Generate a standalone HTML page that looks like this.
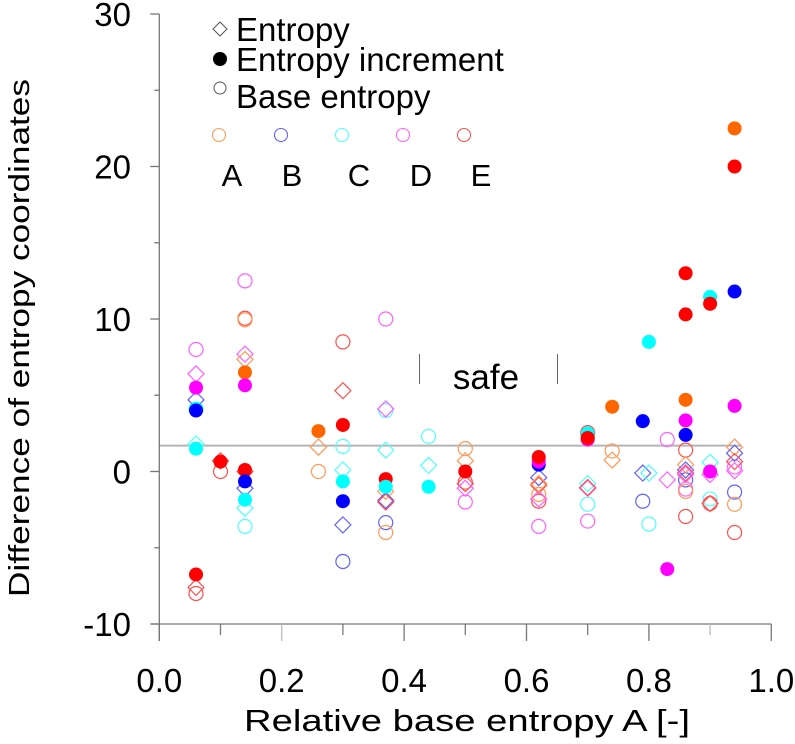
<!DOCTYPE html>
<html><head><meta charset="utf-8"><style>
html,body{margin:0;padding:0;background:#fff;}
svg{display:block;font-family:"Liberation Sans",Arial,sans-serif;}
</style></head><body>
<svg id="chart" width="795" height="744" viewBox="0 0 795 744" xmlns="http://www.w3.org/2000/svg">
<g id="axes"></g>
<g id="marks"></g>
<g id="legend">
  <path d="M220,22 L227,29 L220,36 L213,29 Z" fill="none" stroke="#555" stroke-width="1"/>
  <text x="236" y="41" font-size="33">Entropy</text>
  <circle cx="220" cy="59" r="7" fill="#000"/>
  <text x="236" y="71" font-size="33">Entropy increment</text>
  <circle cx="220" cy="88" r="6" fill="none" stroke="#555" stroke-width="1"/>
  <text x="236" y="108" font-size="33">Base entropy</text>
</g>
<g id="safe">
  <line x1="419.5" y1="354" x2="419.5" y2="384" stroke="#666" stroke-width="1"/>
  <line x1="557.5" y1="354" x2="557.5" y2="384" stroke="#666" stroke-width="1"/>
  <text x="486" y="389" font-size="35" text-anchor="middle">safe</text>
</g>
<text transform="translate(29,338) rotate(-90)" font-size="29" text-anchor="middle" textLength="518" lengthAdjust="spacingAndGlyphs">Difference of entropy coordinates</text>
<text x="467" y="731" font-size="31" text-anchor="middle" textLength="446" lengthAdjust="spacingAndGlyphs">Relative base entropy A [-]</text>
</svg>
<script>
// x (relative base entropy A) per group
const groupX = [0.06, 0.10, 0.14, 0.26, 0.30, 0.37, 0.44, 0.50, 0.62, 0.70, 0.74, 0.79, 0.80, 0.83, 0.86, 0.90, 0.94];
const seriesLetter = ['A','B','C','D','E'];
const seriesColor = ['#ff6600','#0000ff','#00ffff','#ff00ff','#ff0000'];
const seriesOpen  = ['#ff9955','#6060ff','#50ffff','#ff60ff','#ff5050'];
// Entropy (diamonds): [series, group, value]
const entropyPts = [
 [3,0,6.4],[1,0,4.7],[2,0,1.8],[4,0,-7.6],
 [4,1,0.7],
 [3,2,7.7],[0,2,7.35],[4,2,0.0],[1,2,-1.1],[2,2,-2.4],
 [0,3,1.6],
 [4,4,5.3],[2,4,0.1],[1,4,-3.5],
 [3,5,4.1],[2,5,1.4],[0,5,-1.3],[1,5,-1.9],[4,5,-2.0],
 [2,6,0.4],
 [0,7,0.7],[4,7,-0.8],[3,7,-1.1],
 [1,8,-0.4],[4,8,-0.9],[3,8,-1.8],[0,8,-0.8],
 [2,9,-0.8],[3,9,-1.1],[4,9,-1.05],
 [0,10,0.75],
 [1,11,-0.1],
 [2,12,-0.1],
 [3,13,-0.55],
 [0,14,0.45],[1,14,0.1],[4,14,-0.1],[3,14,-0.2],
 [2,15,0.6],[3,15,-0.2],[4,15,-2.1],
 [0,16,1.6],[1,16,1.2],[4,16,0.65],[3,16,0.05]
];
// Entropy increment (filled)
const incrementPts = [
 [2,0,4.1],[1,0,4.0],[3,0,5.5],[2,0,1.5],[4,0,-6.75],
 [4,1,0.65],
 [0,2,6.5],[3,2,5.65],[4,2,0.1],[1,2,-0.65],[2,2,-1.85],
 [0,3,2.65],
 [4,4,3.05],[2,4,-0.65],[1,4,-1.95],
 [4,5,-0.5],[2,5,-1.0],
 [2,6,-1.0],
 [4,7,0.0],
 [1,8,0.45],[3,8,0.65],[4,8,0.95],
 [2,9,2.5],[3,9,2.1],[4,9,2.2],
 [0,10,4.25],
 [1,11,3.3],
 [2,12,8.5],
 [3,13,-6.4],
 [4,14,13.0],[4,14,10.3],[0,14,4.7],[3,14,3.35],[1,14,2.4],
 [2,15,11.45],[4,15,11.0],[3,15,0.0],
 [0,16,22.5],[4,16,20.0],[1,16,11.8],[3,16,4.3]
];
// Base entropy (open circles)
const basePts = [
 [3,0,8.0],[2,0,4.1],[4,0,-8.0],
 [4,1,0.0],
 [3,2,12.5],[4,2,10.05],[0,2,9.95],[2,2,-3.6],
 [0,3,0.0],
 [4,4,8.5],[2,4,1.65],[1,4,-5.9],
 [3,5,10.0],[2,5,4.0],[1,5,-3.35],[0,5,-4.0],
 [2,6,2.3],
 [0,7,1.5],[3,7,-2.0],[4,7,-0.7],
 [4,8,-1.95],[3,8,-3.6],[0,8,-1.5],
 [2,9,2.45],[4,9,2.55],[2,9,-2.15],[3,9,-3.25],
 [0,10,1.35],
 [1,11,-1.95],
 [2,12,-3.45],
 [3,13,2.1],
 [4,14,1.4],[1,14,-0.55],[3,14,-1.15],[0,14,-1.3],[4,14,-2.95],
 [2,15,-1.8],[4,15,-2.1],
 [3,16,0.3],[1,16,-1.35],[0,16,-2.15],[4,16,-4.0]
];
const yTickValues = [30, 20, 10, 0, -10];
const yTickLabels = ['30','20','10','0','-10'];
const xTickValues = [0, 0.2, 0.4, 0.6, 0.8, 1.0];
const xTickLabels = ['0.0','0.2','0.4','0.6','0.8','1.0'];
const refLineValue = 1.7;

const NS='http://www.w3.org/2000/svg';
const X0=159.3, XW=612, Y0=471.5, YS=15.25;
function xs(v){return X0+v*XW;}
function ys(v){return Y0-v*YS;}
function mk(tag,attrs,parent){const e=document.createElementNS(NS,tag);for(const k in attrs)e.setAttribute(k,attrs[k]);parent.appendChild(e);return e;}

const axes=document.getElementById('axes');
const marks=document.getElementById('marks');
const legend=document.getElementById('legend');
const AX='#777';
let rl=mk('line',{x1:xs(0),x2:xs(0.95),y1:ys(refLineValue),y2:ys(refLineValue),stroke:'#b4b4b4','stroke-width':2},axes);


let ya=mk('line',{x1:X0,x2:X0,y1:ys(30),y2:ys(-10)+17,stroke:AX,'stroke-width':1.3},axes);


let xa=mk('line',{x1:X0-8,x2:xs(1),y1:ys(-10),y2:ys(-10),stroke:AX,'stroke-width':1.3},axes);


for(let v=-10; v<=30; v+=5){
  const major = v%10===0;
  let t=mk('line',{x1:X0-(major?9:5),x2:X0,y1:ys(v),y2:ys(v),stroke:AX,'stroke-width':1.3},axes);
  
  
}
yTickValues.forEach((v,i)=>{
  let t=mk('text',{x:131,y:ys(v)+12,'font-size':33,'text-anchor':'end'},axes);
  t.textContent=yTickLabels[i];
  
  
});
for(let i=0;i<=10;i++){
  const v=i/10, major=i%2===0;
  let t=mk('line',{x1:xs(v),x2:xs(v),y1:ys(-10),y2:ys(-10)+(major?17:11),stroke:(i===2||i===9)?'#bbb':AX,'stroke-width':1.3},axes);
  
  
}
xTickValues.forEach((v,i)=>{
  let t=mk('text',{x:xs(v),y:692,'font-size':33,'text-anchor':'middle'},axes);
  t.textContent=xTickLabels[i];
  
  
});
function px(p){return xs(groupX[p[1]]);}
basePts.forEach(p=>{
  let c=mk('circle',{cx:px(p),cy:ys(p[2]),r:7,fill:'none',stroke:seriesOpen[p[0]],'stroke-width':1.2},marks);
  
  
});
entropyPts.forEach(p=>{
  const x=px(p), y=ys(p[2]), r=8;
  let d=mk('path',{d:`M${x},${y-r}L${x+r},${y}L${x},${y+r}L${x-r},${y}Z`,fill:'none',stroke:seriesOpen[p[0]],'stroke-width':1.2},marks);
  
  
});
incrementPts.forEach(p=>{
  let c=mk('circle',{cx:px(p),cy:ys(p[2]),r:7,fill:seriesColor[p[0]]},marks);
  
  
});
const legX=[219,281,342,403,464], letX=[232,292,359,421,481];
seriesLetter.forEach((s,i)=>{
  let c=mk('circle',{cx:legX[i],cy:135,r:6.5,fill:'none',stroke:seriesOpen[i],'stroke-width':1.1},legend);
  
  
  let t=mk('text',{x:letX[i],y:186,'font-size':31,'text-anchor':'middle'},legend);
  t.textContent=s;
  
  
});
</script>
</body></html>
